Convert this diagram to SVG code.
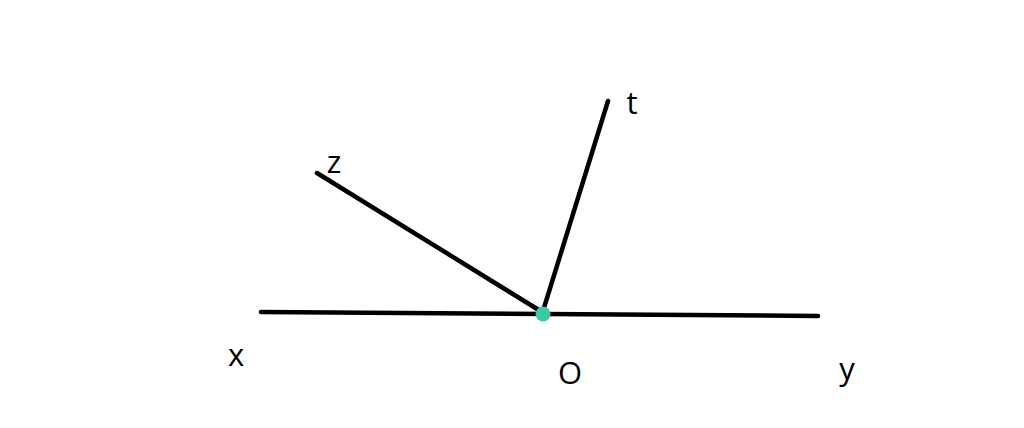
<svg xmlns="http://www.w3.org/2000/svg" width="1024" height="428" viewBox="0 0 1024 428">
<style>
.ln{stroke:#000;stroke-width:4.5;stroke-linecap:round;fill:none}
.lb{font-family:"Open Sans","Noto Sans",sans-serif;font-size:31px;fill:#000;text-anchor:middle}
</style>
<rect width="1024" height="428" fill="#fff"/>
<g id="connectors">
<line class="ln" x1="261" y1="312" x2="818" y2="316"/>
<line class="ln" x1="317" y1="173" x2="542" y2="312"/>
<line class="ln" x1="608" y1="101" x2="543" y2="311"/>
</g>
<g id="O"><circle cx="543" cy="314" r="7.5" fill="#3cc8a0"/><text class="lb" x="570" y="384">O</text></g>
<g id="x"><text class="lb" x="236" y="366">x</text></g>
<g id="y"><text class="lb" x="847" y="380">y</text></g>
<g id="z"><text class="lb" x="334" y="173">z</text></g>
<g id="t"><text class="lb" x="632" y="114">t</text></g>
</svg>
